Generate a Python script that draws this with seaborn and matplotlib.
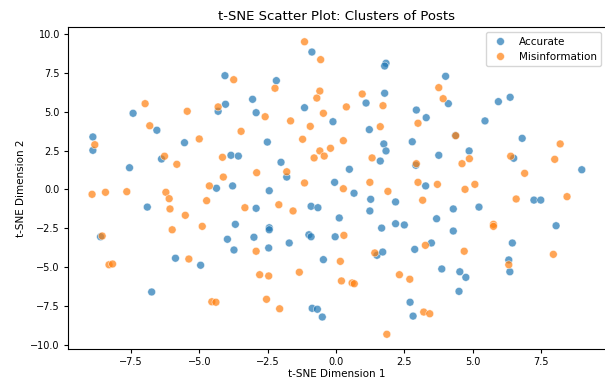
import matplotlib
matplotlib.use("Agg")
import matplotlib.pyplot as plt
import seaborn as sns
import pandas as pd

# Accurate posts (blue)
acc_x = [-7.42, -6.55, -8.89, -0.88, -4.06, -2.18, -3.05, -4.04, -4.31, -2.92,
         -1.15, -0.11, 1.83, 1.78, 4.01, 1.78, 4.11, 1.10, 2.94, 3.30,
         1.22, 4.37, 6.37, 5.94, 5.45, -8.89, -5.54, -6.38, -7.55, -6.90,
         -8.61, -2.51, -3.84, -3.57, -2.01, -1.80, -4.37, -3.78, -0.05, -2.44,
         -2.92, -0.91, -0.66, -3.68, -2.44, -2.44, 0.12, -3.97, -3.00, -0.99,
         -0.91, -0.03, 1.75, 1.83, 2.79, 1.62, 3.76, 4.87, 2.92, 0.49,
         3.28, 0.66, 1.27, 2.18, 1.24, 4.29, 3.68, 1.67, 2.18, 2.50,
         4.29, 6.81, 6.50, 8.99, 7.24, 7.49, 5.23, 8.05, -5.87, -4.95,
         -6.74, -3.73, -2.46, -1.71, -0.46, -0.87, -0.68, -0.50, 1.50, 1.71,
         2.88, 3.49, 3.87, 4.53, 4.75, 4.50, 2.71, 2.82, 6.45, 6.32, 6.36]
acc_y = [4.90, 3.81, 3.38, 8.84, 7.32, 7.00, 5.80, 5.48, 5.03, 4.94,
         5.26, 4.36, 8.12, 7.94, 7.28, 6.19, 5.52, 5.56, 5.11, 4.62,
         3.85, 3.47, 5.93, 5.65, 4.41, 2.52, 3.01, 1.96, 1.40, -1.13,
         -3.04, 3.05, 2.20, 2.15, 1.75, 0.80, 0.08, 0.23, 0.46, -0.08,
         -1.21, -1.08, -1.17, -2.24, -2.46, -2.59, -1.83, -3.20, -3.07, -2.91,
         -3.04, -3.04, 2.93, 2.48, 3.07, 1.83, 2.20, 2.48, 1.56, 1.30,
         0.23, -0.24, -0.63, -0.80, -1.38, -1.25, -1.88, -2.48, -2.20, -2.28,
         -2.67, 3.29, 2.01, 1.27, -0.68, -0.68, -1.13, -2.33, -4.42, -4.87,
         -6.59, -3.89, -3.76, -3.44, -4.51, -7.64, -7.70, -8.20, -4.23, -4.02,
         -3.85, -3.44, -5.11, -5.29, -5.65, -6.55, -7.25, -8.14, -3.44, -4.53, -5.29]

# Misinformation posts (orange)
mis_x = [-6.98, -5.44, -6.81, -1.15, -0.56, -3.74, -2.23, -0.59, -0.70, -4.31,
         -2.59, -0.46, -1.66, -0.94, -3.47, 3.76, 0.96, 3.92, 0.38, 1.72,
         3.00, 1.62, 4.38, -8.82, -5.00, -6.27, -5.82, -8.92, -8.43, -7.65,
         -6.22, -6.10, -4.63, -4.73, -6.07, -5.51, -4.89, -5.99, -8.55, -1.22,
         -4.15, -0.59, -0.20, -0.80, -0.43, -1.80, -2.90, -4.12, -1.15, -3.33,
         -2.09, -1.57, 0.27, 1.32, 2.94, 4.61, 4.88, 1.24, 3.00, 3.71,
         4.72, 0.27, 1.90, 3.17, 0.29, 8.20, 6.39, 8.00, 6.90, 5.08,
         6.59, 8.45, 5.76, 5.76, -8.30, -8.17, -5.38, -4.54, -4.39, -2.92,
         0.16, -2.79, -2.46, -1.34, 0.20, -2.54, -2.06, 1.42, 4.69, 0.59,
         0.67, 2.32, 2.70, 3.21, 3.43, 1.86, 6.32, 7.95, 3.27]
mis_y = [5.52, 5.03, 4.10, 9.50, 8.35, 7.06, 6.51, 6.33, 5.88, 5.31,
         4.68, 4.90, 4.41, 4.06, 3.74, 6.55, 6.14, 5.84, 5.31, 5.39,
         4.26, 4.04, 3.46, 2.88, 3.25, 2.14, 1.62, -0.31, -0.18, -0.14,
         -0.18, -0.59, 0.23, -0.72, -1.25, -1.66, -2.37, -2.59, -2.99, 3.23,
         2.07, 2.48, 2.65, 2.03, 2.15, 1.14, 1.08, 0.80, 0.42, -1.17,
         -0.98, -1.38, 3.14, 2.03, 1.66, 1.66, 1.98, 0.46, 0.46, 0.33,
         0.01, 0.05, -0.12, -0.69, -2.95, 2.93, 2.14, 1.94, 1.04, 0.33,
         -0.61, -0.46, -2.24, -2.37, -4.84, -4.79, -4.47, -7.22, -7.25, -3.97,
         -4.62, -5.48, -5.56, -5.32, -5.88, -7.06, -7.67, -4.08, -3.97, -6.01,
         -6.06, -5.48, -5.77, -7.88, -7.99, -9.31, -4.84, -4.17, -3.59]

labels = ["Accurate", "Misinformation"]
colors = ["#1f77b4", "#ff7f0e"]

df = pd.DataFrame({
    "x": acc_x + mis_x,
    "y": acc_y + mis_y,
    "label": [labels[0]] * len(acc_x) + [labels[1]] * len(mis_x),
})

fig = plt.figure(figsize=(6.05, 3.79), dpi=100)
ax = fig.add_axes([0.1117, 0.0794, 0.8904, 0.849])
sns.scatterplot(data=df, x="x", y="y", hue="label", hue_order=labels,
                palette=dict(zip(labels, colors)), alpha=0.7, s=32, ax=ax)

ax.set_title("t-SNE Scatter Plot: Clusters of Posts", fontsize=9.5, pad=5)
ax.set_xlabel("t-SNE Dimension 1", fontsize=7.5, labelpad=1.5)
ax.set_ylabel("t-SNE Dimension 2", fontsize=7.5, labelpad=3)
ax.tick_params(labelsize=7, length=3, pad=2.5)
handles, lbls = ax.get_legend_handles_labels()
ax.legend(handles, lbls, loc="upper right", fontsize=7.5)

fig.savefig("out.png", dpi=100)
